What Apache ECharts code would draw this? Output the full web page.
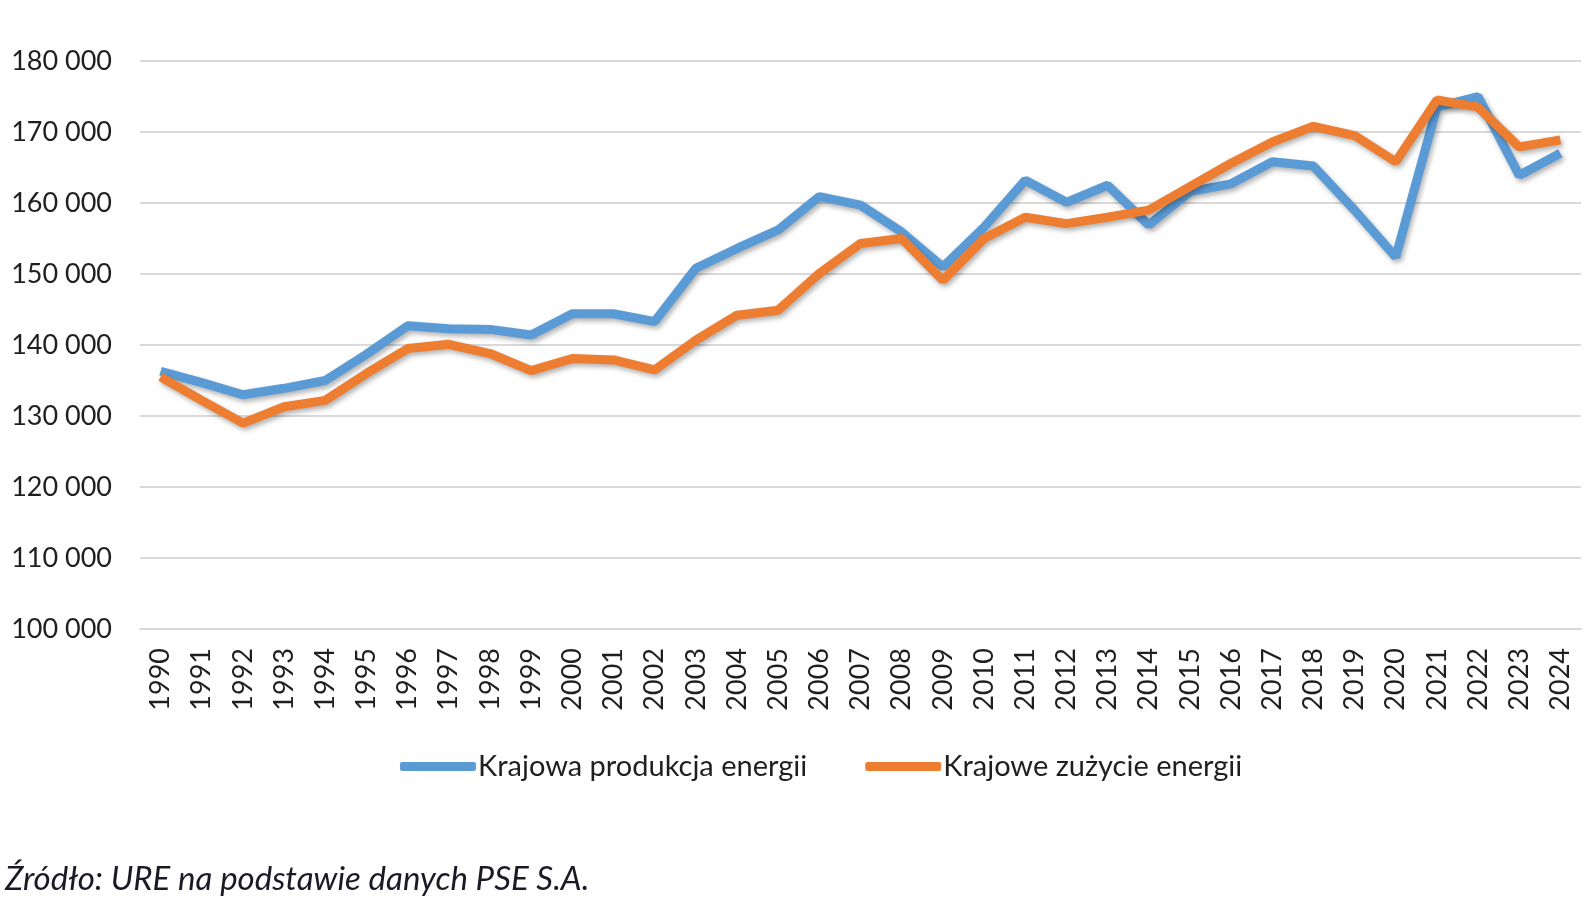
<!DOCTYPE html>
<html>
<head>
<meta charset="utf-8">
<title>Produkcja i zużycie energii</title>
<script src="https://cdn.jsdelivr.net/npm/echarts@6/dist/echarts.min.js"></script>
<style>
  html, body { margin: 0; padding: 0; background: #fff; }
  #chart { width: 1589px; height: 898px; }
</style>
</head>
<body>
<div id="chart"></div>
<script>
// lata
var years = ['1990', '1991', '1992', '1993', '1994', '1995', '1996', '1997', '1998', '1999',
  '2000', '2001', '2002', '2003', '2004', '2005', '2006', '2007', '2008', '2009',
  '2010', '2011', '2012', '2013', '2014', '2015', '2016', '2017', '2018', '2019',
  '2020', '2021', '2022', '2023', '2024'];

// Krajowa produkcja energii (GWh)
var produkcja = [136300, 134700, 133000, 133900, 135000, 138700, 142700, 142300, 142200, 141400,
  144400, 144400, 143300, 150800, 153600, 156200, 160900, 159700, 155900, 151000,
  156600, 163200, 160100, 162500, 156900, 161600, 162700, 165800, 165200, 159000,
  152400, 173500, 175000, 163900, 167000];

// Krajowe zużycie energii
var zuzycie = [135500, 132200, 129000, 131300, 132200, 136000, 139500, 140100, 138800, 136400,
  138100, 137900, 136500, 140700, 144200, 144900, 150100, 154300, 155000, 149100,
  155000, 158000, 157100, 158000, 159000, 162300, 165600, 168600, 170800, 169500,
  165800, 174500, 173500, 167900, 168900];

var seriesNames = ['Krajowa produkcja energii', 'Krajowe zużycie energii'];
var colors = ['#5B9BD5', '#ED7D31'];
var fontName = 'Lato';

var myChart = echarts.init(document.getElementById('chart'));

function lineSeries(name, data, color) {
  return {
    name: name,
    type: 'line',
    data: data,
    showSymbol: false,
    symbol: 'none',
    animation: false,
    lineStyle: {
      color: color,
      width: 9,
      shadowColor: 'rgba(0,0,0,0.3)',
      shadowBlur: 5,
      shadowOffsetX: 2,
      shadowOffsetY: 3
    },
    itemStyle: { color: color }
  };
}

var option = {
  backgroundColor: '#ffffff',
  title: {
    text: 'Źródło: URE na podstawie danych PSE S.A.',
    left: 0,
    top: 858,
    textStyle: {
      fontFamily: fontName,
      fontStyle: 'italic',
      fontWeight: 'normal',
      fontSize: 33,
      color: '#1a1a26'
    }
  },
  legend: {
    left: 395,
    top: 747,
    icon: 'roundRect',
    itemWidth: 76,
    itemHeight: 9,
    itemGap: 58,
    textStyle: {
      fontFamily: fontName,
      fontSize: 29,
      color: '#1f1f1f',
      padding: [0, 0, 0, -3]
    },
    data: seriesNames
  },
  grid: {
    left: 140,
    right: 8,
    top: 61,
    bottom: 269,
    containLabel: false
  },
  xAxis: {
    type: 'category',
    data: years,
    boundaryGap: true,
    axisLine: { lineStyle: { color: '#d9d9d9', width: 2 } },
    axisTick: { show: false },
    axisLabel: {
      rotate: 90,
      margin: 19,
      interval: 0,
      fontFamily: fontName,
      fontSize: 27,
      color: '#1f1f1f'
    }
  },
  yAxis: {
    type: 'value',
    min: 100000,
    max: 180000,
    interval: 10000,
    axisLine: { show: false },
    axisTick: { show: false },
    splitLine: { lineStyle: { color: '#d9d9d9', width: 2 } },
    axisLabel: {
      margin: 28,
      fontFamily: fontName,
      fontSize: 27,
      color: '#1f1f1f',
      formatter: function(v) {
        return String(v).replace(/\B(?=(\d{3})+(?!\d))/g, ' ');
      }
    }
  },
  series: [
    lineSeries(seriesNames[0], produkcja, colors[0]),
    lineSeries(seriesNames[1], zuzycie, colors[1])
  ]
};

myChart.setOption(option);
window.addEventListener('resize', function() {
  myChart.resize();
});
</script>
</body>
</html>
